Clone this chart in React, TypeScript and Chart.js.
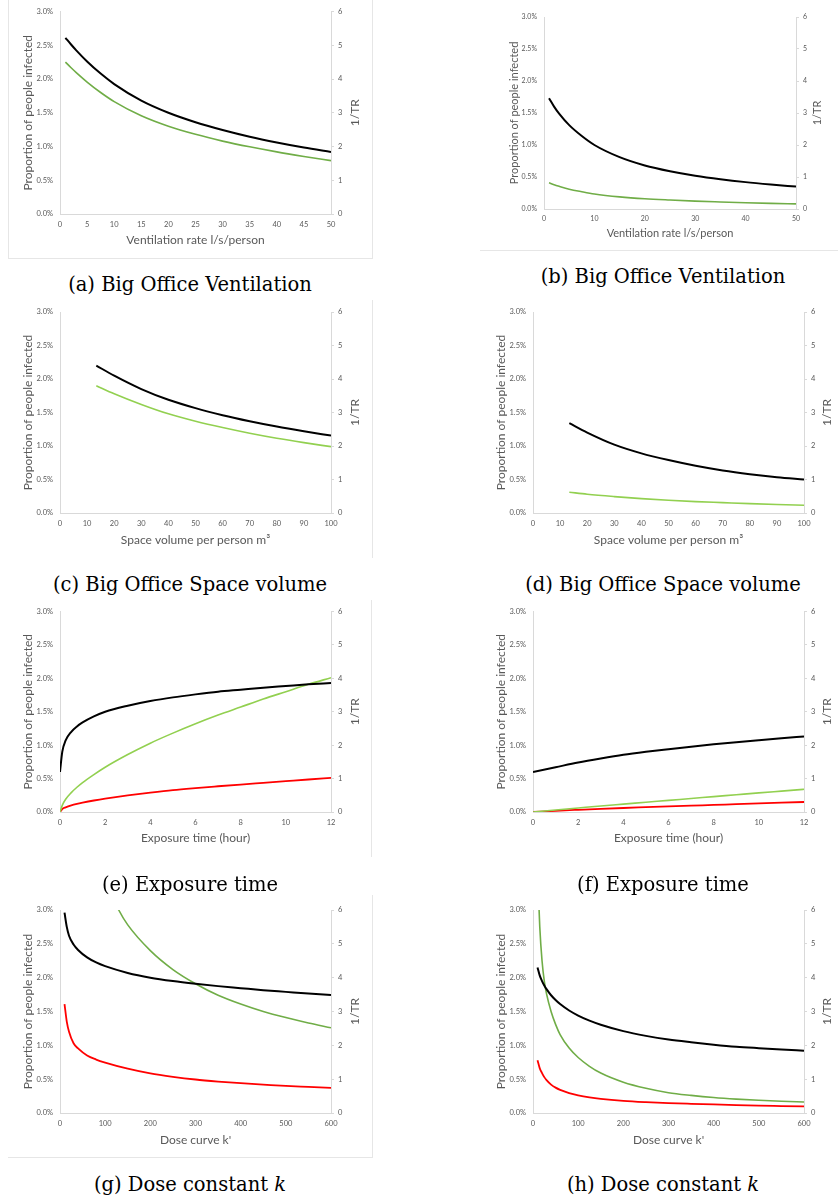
import React, { useEffect, useRef } from 'react';
import { Chart, registerables } from 'chart.js';
Chart.register(...registerables);

// ---------- colours ----------
const BLACK = '#000000';
const GREEN_DARK = '#70AD47';
const GREEN_LIGHT = '#92D050';
const RED = '#FF0000';
const AXIS = '#d9d9d9';
const TEXT = '#595959';

// ---------- tick labels ----------
const yLeftMin = 0;
const yLeftMax = 3;
const yLeftStep = 0.5;
const yRightMin = 0;
const yRightMax = 6;
const yRightStep = 1;
const yTitle = 'Proportion of people infected';
const yRightTitle = '1/TR';

// ---------- (a)/(b) ventilation ----------
const ventX = [1, 2, 3, 5, 7.5, 10, 15, 20, 25, 30, 35, 40, 45, 50];
const aBlack = [2.61, 2.515, 2.425, 2.26, 2.08, 1.925, 1.68, 1.5, 1.36, 1.245, 1.145, 1.06, 0.985, 0.92];
const aGreen = [2.25, 2.17, 2.095, 1.955, 1.8, 1.665, 1.455, 1.3, 1.18, 1.08, 0.995, 0.92, 0.853, 0.79];
const bBlack = [1.73, 1.6, 1.49, 1.31, 1.14, 1.0, 0.81, 0.68, 0.59, 0.52, 0.465, 0.42, 0.383, 0.35];
const bGreen = [0.41, 0.38, 0.355, 0.31, 0.27, 0.235, 0.19, 0.16, 0.14, 0.123, 0.11, 0.098, 0.088, 0.08];

// ---------- (c)/(d) space volume ----------
const spaceX = [13.4, 20, 30, 40, 50, 60, 70, 80, 90, 100];
const cBlack = [2.2, 2.05, 1.85, 1.69, 1.565, 1.46, 1.37, 1.29, 1.22, 1.155];
const cGreen = [1.9, 1.78, 1.62, 1.48, 1.37, 1.275, 1.19, 1.115, 1.05, 0.99];
const dBlack = [1.34, 1.2, 1.02, 0.89, 0.79, 0.705, 0.635, 0.58, 0.535, 0.5];
const dGreen = [0.31, 0.28, 0.245, 0.215, 0.19, 0.17, 0.155, 0.14, 0.127, 0.115];

// ---------- (e)/(f) exposure time ----------
const expXE = [0, 0.1, 0.25, 0.5, 0.75, 1, 1.5, 2, 3, 4, 5, 6, 7, 8, 9, 10, 11, 12];
const eBlack = [0.6, 0.9, 1.07, 1.2, 1.28, 1.34, 1.43, 1.5, 1.59, 1.66, 1.715, 1.76, 1.8, 1.83, 1.86, 1.885, 1.91, 1.93];
const eGreen = [0, 0.1, 0.19, 0.29, 0.37, 0.44, 0.56, 0.67, 0.86, 1.03, 1.18, 1.32, 1.45, 1.57, 1.69, 1.8, 1.91, 2.01];
const eRed = [0, 0.045, 0.07, 0.1, 0.122, 0.14, 0.172, 0.2, 0.248, 0.29, 0.328, 0.358, 0.385, 0.411, 0.436, 0.461, 0.486, 0.51];
const expXF = [0, 1, 2, 3, 4, 5, 6, 7, 8, 9, 10, 11, 12];
const fBlack = [0.6, 0.67, 0.74, 0.8, 0.855, 0.9, 0.94, 0.978, 1.012, 1.044, 1.074, 1.103, 1.13];
const fGreen = [0, 0.03, 0.06, 0.09, 0.118, 0.146, 0.174, 0.202, 0.23, 0.258, 0.286, 0.313, 0.34];
const fRed = [0, 0.018, 0.033, 0.047, 0.06, 0.072, 0.084, 0.095, 0.106, 0.117, 0.128, 0.139, 0.15];

// ---------- (g)/(h) dose constant ----------
const doseXG = [10, 15, 20, 30, 40, 60, 80, 100, 150, 200, 250, 300, 350, 400, 450, 500, 550, 600];
const gBlack = [2.96, 2.75, 2.62, 2.49, 2.41, 2.3, 2.225, 2.17, 2.07, 2.0, 1.95, 1.91, 1.875, 1.845, 1.815, 1.79, 1.765, 1.745];
const gRed = [1.61, 1.35, 1.2, 1.03, 0.955, 0.85, 0.79, 0.745, 0.655, 0.585, 0.535, 0.495, 0.465, 0.44, 0.42, 0.4, 0.385, 0.37];
const gGreenX = [100, 130, 150, 200, 250, 300, 350, 400, 450, 500, 550, 600];
const gGreen = [3.45, 3.0, 2.78, 2.4, 2.12, 1.91, 1.74, 1.61, 1.5, 1.41, 1.33, 1.26];
const doseXH = [10, 15, 20, 25, 30, 40, 50, 60, 80, 100, 125, 150, 200, 250, 300, 350, 400, 450, 500, 550, 600];
const hBlack = [2.15, 2.03, 1.95, 1.885, 1.83, 1.74, 1.67, 1.61, 1.515, 1.44, 1.365, 1.305, 1.21, 1.14, 1.085, 1.045, 1.01, 0.98, 0.958, 0.938, 0.92];
const hGreen = [3.6, 2.75, 2.25, 1.95, 1.76, 1.5, 1.31, 1.16, 0.96, 0.82, 0.69, 0.59, 0.455, 0.365, 0.3, 0.26, 0.228, 0.205, 0.188, 0.174, 0.162];
const hRed = [0.78, 0.66, 0.59, 0.53, 0.485, 0.42, 0.375, 0.342, 0.295, 0.262, 0.232, 0.21, 0.18, 0.161, 0.147, 0.136, 0.126, 0.117, 0.109, 0.103, 0.097];

type Series = { xs: number[]; ys: number[]; color: string; width: number };
type PanelCfg = {
  left: number; top: number; width: number; height: number;
  axL: number; axR: number; padTop: number; axB: number;
  xMin: number; xMax: number; xStep: number; xTitle: string;
  yTitleOff: number; rTitleX: number; xTitleOff: number;
  tickSize: number; titleSize: number;
  series: Series[];
};

const rightTitlePlugin = {
  id: 'rightTitle',
  afterDraw(chart: any, _args: any, opts: any) {
    const { ctx, chartArea } = chart;
    ctx.save();
    ctx.fillStyle = TEXT;
    ctx.font = `${opts.size}px Lato`;
    ctx.textAlign = 'center';
    ctx.textBaseline = 'middle';
    ctx.translate(opts.x, (chartArea.top + chartArea.bottom) / 2);
    ctx.rotate(-Math.PI / 2);
    ctx.fillText(yRightTitle, 0, 0);
    ctx.restore();
  },
};

function Panel({ cfg }: { cfg: PanelCfg }) {
  const ref = useRef<HTMLCanvasElement>(null);
  useEffect(() => {
    if (!ref.current) return;
    const tickFont = { family: 'Lato', size: cfg.tickSize };
    const titleFont = { family: 'Lato', size: cfg.titleSize };
    const chart = new Chart(ref.current, {
      type: 'line',
      data: {
        datasets: cfg.series.map((s) => ({
          data: s.xs.map((x, i) => ({ x, y: s.ys[i] })),
          borderColor: s.color,
          borderWidth: s.width,
          pointRadius: 0,
          fill: false,
          cubicInterpolationMode: 'monotone' as const,
          clip: 0,
        })),
      },
      options: {
        animation: false,
        responsive: false,
        maintainAspectRatio: false,
        layout: { padding: { top: cfg.padTop, left: 0, right: 0, bottom: 0 } },
        plugins: {
          legend: { display: false },
          tooltip: { enabled: false },
          rightTitle: { x: cfg.width - cfg.rTitleX, size: cfg.titleSize },
        } as any,
        scales: {
          x: {
            type: 'linear',
            min: cfg.xMin,
            max: cfg.xMax,
            ticks: { stepSize: cfg.xStep, autoSkip: false, maxRotation: 0, font: tickFont, color: TEXT, padding: 6 },
            grid: { display: false, drawTicks: false },
            border: { display: true, color: AXIS },
            title: { display: true, text: cfg.xTitle, font: titleFont, color: TEXT, padding: { top: 0, bottom: cfg.xTitleOff - cfg.titleSize * 0.6 } },
            afterFit: (s: any) => { s.height = cfg.axB; },
          },
          y: {
            type: 'linear',
            position: 'left',
            min: yLeftMin,
            max: yLeftMax,
            ticks: { stepSize: yLeftStep, font: tickFont, color: TEXT, padding: 7, callback: (v: any) => Number(v).toFixed(1) + '%' },
            grid: { display: false, drawTicks: false },
            border: { display: true, color: AXIS },
            title: { display: true, text: yTitle, font: titleFont, color: TEXT, padding: { top: cfg.yTitleOff - cfg.titleSize * 0.6, bottom: 0 } },
            afterFit: (s: any) => { s.width = cfg.axL; },
          },
          y2: {
            type: 'linear',
            position: 'right',
            min: yRightMin,
            max: yRightMax,
            ticks: { stepSize: yRightStep, font: tickFont, color: TEXT, padding: 4 },
            grid: { display: true, drawOnChartArea: false, drawTicks: true, tickLength: 3, color: AXIS },
            border: { display: true, color: AXIS },
            afterFit: (s: any) => { s.width = cfg.axR; },
          },
        },
      } as any,
      plugins: [rightTitlePlugin],
    });
    return () => chart.destroy();
  }, []);
  return (
    <canvas
      ref={ref}
      width={cfg.width}
      height={cfg.height}
      style={{ position: 'absolute', left: cfg.left, top: cfg.top, width: cfg.width, height: cfg.height }}
    />
  );
}

const L = { left: 8, width: 364, axL: 52, axR: 41, yTitleOff: 20, rTitleX: 17, tickSize: 7.5, titleSize: 12 };
const R = { left: 470, width: 368, axL: 63, axR: 34, yTitleOff: 31, rTitleX: 11, tickSize: 7.5, titleSize: 12 };

const panels: PanelCfg[] = [
  { ...L, top: 0, height: 258, padTop: 11, axB: 44, xTitleOff: 18, xMin: 0, xMax: 50, xStep: 5, xTitle: 'Ventilation rate l/s/person',
    series: [{ xs: ventX, ys: aBlack, color: BLACK, width: 2 }, { xs: ventX, ys: aGreen, color: GREEN_DARK, width: 1.6 }] },
  { left: 480, width: 358, axL: 64, axR: 42, yTitleOff: 34, rTitleX: 21, tickSize: 7, titleSize: 11,
    top: 0, height: 250, padTop: 17, axB: 41, xTitleOff: 17, xMin: 0, xMax: 50, xStep: 10, xTitle: 'Ventilation rate l/s/person',
    series: [{ xs: ventX, ys: bBlack, color: BLACK, width: 2 }, { xs: ventX, ys: bGreen, color: GREEN_DARK, width: 1.6 }] },
  { ...L, top: 300, height: 258, padTop: 12, axB: 45, xTitleOff: 18, xMin: 0, xMax: 100, xStep: 10, xTitle: 'Space volume per person m³',
    series: [{ xs: spaceX, ys: cBlack, color: BLACK, width: 2 }, { xs: spaceX, ys: cGreen, color: GREEN_LIGHT, width: 1.6 }] },
  { ...R, top: 300, height: 258, padTop: 12, axB: 45, xTitleOff: 18, xMin: 0, xMax: 100, xStep: 10, xTitle: 'Space volume per person m³',
    series: [{ xs: spaceX, ys: dBlack, color: BLACK, width: 2 }, { xs: spaceX, ys: dGreen, color: GREEN_LIGHT, width: 1.6 }] },
  { ...L, top: 600, height: 258, padTop: 11, axB: 46, xTitleOff: 20, xMin: 0, xMax: 12, xStep: 2, xTitle: 'Exposure time (hour)',
    series: [{ xs: expXE, ys: eBlack, color: BLACK, width: 2 }, { xs: expXE, ys: eGreen, color: GREEN_LIGHT, width: 1.6 }, { xs: expXE, ys: eRed, color: RED, width: 1.8 }] },
  { ...R, top: 600, height: 258, padTop: 11, axB: 46, xTitleOff: 20, xMin: 0, xMax: 12, xStep: 2, xTitle: 'Exposure time (hour)',
    series: [{ xs: expXF, ys: fBlack, color: BLACK, width: 2 }, { xs: expXF, ys: fGreen, color: GREEN_LIGHT, width: 1.6 }, { xs: expXF, ys: fRed, color: RED, width: 1.8 }] },
  { ...L, top: 895, height: 262, padTop: 15, axB: 44, xTitleOff: 17, xMin: 0, xMax: 600, xStep: 100, xTitle: "Dose curve k'",
    series: [{ xs: doseXG, ys: gBlack, color: BLACK, width: 2 }, { xs: gGreenX, ys: gGreen, color: GREEN_DARK, width: 1.6 }, { xs: doseXG, ys: gRed, color: RED, width: 1.8 }] },
  { ...R, top: 895, height: 262, padTop: 15, axB: 44, xTitleOff: 17, xMin: 0, xMax: 600, xStep: 100, xTitle: "Dose curve k'",
    series: [{ xs: doseXH, ys: hBlack, color: BLACK, width: 2 }, { xs: doseXH, ys: hGreen, color: GREEN_DARK, width: 1.6 }, { xs: doseXH, ys: hRed, color: RED, width: 1.8 }] },
];

const captions: { text: React.ReactNode; cx: number; cy: number }[] = [
  { text: '(a) Big Office Ventilation', cx: 190, cy: 285 },
  { text: '(b) Big Office Ventilation', cx: 663, cy: 277 },
  { text: '(c) Big Office Space volume', cx: 190, cy: 585 },
  { text: '(d) Big Office Space volume', cx: 663, cy: 585 },
  { text: '(e) Exposure time', cx: 190, cy: 885 },
  { text: '(f) Exposure time', cx: 663, cy: 885 },
  { text: <>(g) Dose constant <i>k</i></>, cx: 190, cy: 1185 },
  { text: <>(h) Dose constant <i>k</i></>, cx: 663, cy: 1185 },
];

const LINE = '#e6e6e6';
const frameLines = [
  { left: 8, top: 0, width: 1, height: 258 },
  { left: 8, top: 258, width: 364, height: 1 },
  { left: 372, top: 0, width: 1, height: 259 },
  { left: 480, top: 250, width: 358, height: 1 },
  { left: 372, top: 300, width: 1, height: 258 },
  { left: 371, top: 600, width: 1, height: 257 },
  { left: 372, top: 895, width: 1, height: 262 },
  { left: 8, top: 1157, width: 365, height: 1 },
];

export default function App() {
  return (
    <div style={{ position: 'absolute', left: 0, top: 0, width: 838, height: 1200, background: '#ffffff', overflow: 'hidden' }}>
      {frameLines.map((l, i) => (
        <div key={'l' + i} style={{ position: 'absolute', left: l.left, top: l.top, width: l.width, height: l.height, background: LINE }} />
      ))}
      {panels.map((p, i) => (
        <Panel key={i} cfg={p} />
      ))}
      {captions.map((c, i) => (
        <div
          key={'c' + i}
          style={{
            position: 'absolute', left: c.cx - 180, top: c.cy - 13, width: 360, height: 26, lineHeight: '26px',
            textAlign: 'center', fontFamily: '"DejaVu Serif", serif', fontSize: 19.5, color: '#000', whiteSpace: 'nowrap',
          }}
        >
          {c.text}
        </div>
      ))}
    </div>
  );
}
